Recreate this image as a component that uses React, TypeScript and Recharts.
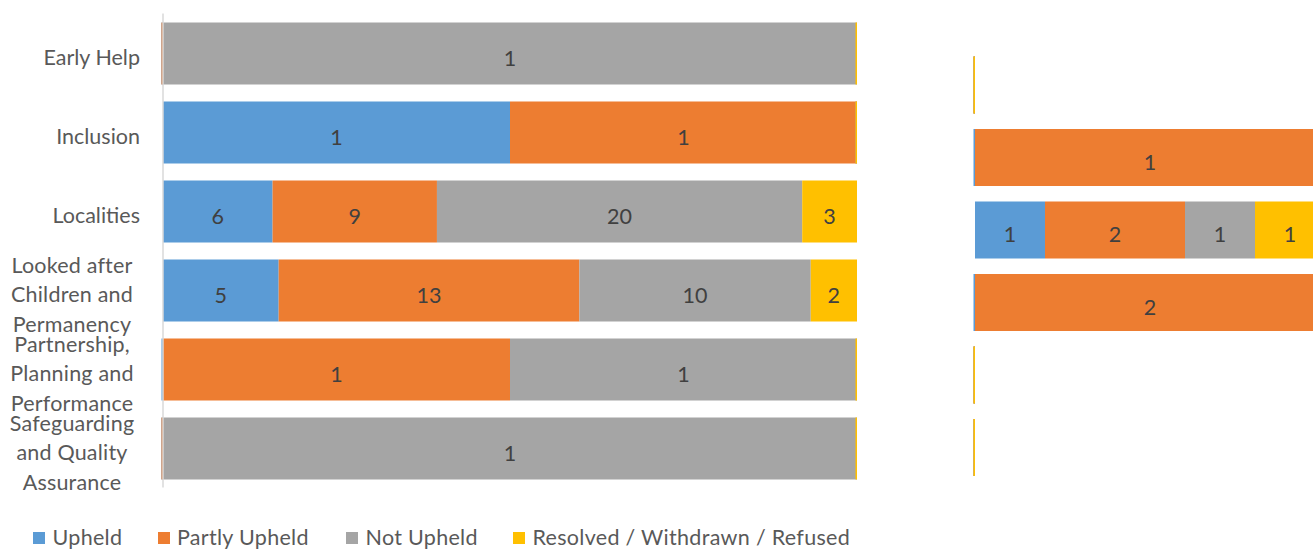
import React from "react";
import { BarChart, Bar, XAxis, YAxis, LabelList } from "recharts";

const categories = [
  "Early Help",
  "Inclusion",
  "Localities",
  "Looked after Children and Permanency",
  "Partnership, Planning and Performance",
  "Safeguarding and Quality Assurance",
];

// left chart
const upheld = [0, 1, 6, 5, 0, 0];
const partlyUpheld = [0, 1, 9, 13, 1, 0];
const notUpheld = [1, 0, 20, 10, 1, 1];
const resolved = [0, 0, 3, 2, 0, 0];

// right chart (cut off at page edge)
const upheldRight = [0, 0, 1, 0, 0, 0];
const partlyUpheldRight = [0, 1, 2, 2, 0, 0];
const notUpheldRight = [0, 0, 1, 0, 0, 0];
const resolvedRight = [0, 0, 1, 0, 0, 0];

const seriesKeys = ["upheld", "partly", "notUpheld", "resolved"];
const seriesNames = ["Upheld", "Partly Upheld", "Not Upheld", "Resolved / Withdrawn / Refused"];
const seriesColors = ["#5B9BD5", "#ED7D31", "#A5A5A5", "#FFC000"];
const legendLeft = [33, 157.5, 346, 513];

const FONT = "Lato, 'Open Sans', sans-serif";

// raw counts plus each count's share of its row (100% stacked); empty rows stay at 0
function buildRows(cols: number[][]) {
  return categories.map((name, i) => {
    const row: any = { name };
    const total = cols.reduce((s, c) => s + c[i], 0);
    seriesKeys.forEach((k, j) => {
      row[k] = cols[j][i];
      row[k + "Share"] = total ? cols[j][i] / total : 0;
    });
    return row;
  });
}

const leftRows = buildRows([upheld, partlyUpheld, notUpheld, resolved]);
const rightRows = buildRows([upheldRight, partlyUpheldRight, notUpheldRight, resolvedRight]);

function wrapWords(text: string, max: number) {
  const lines: string[] = [];
  let cur = "";
  text.split(" ").forEach((w) => {
    const next = cur ? cur + " " + w : w;
    if (next.length > max && cur) {
      lines.push(cur);
      cur = w;
    } else cur = next;
  });
  if (cur) lines.push(cur);
  return lines;
}

const CategoryTick = (props: any) => {
  const { x, y, payload } = props;
  const lines = wrapWords(payload.value, 12);
  if (lines.length === 1) {
    return (
      <text x={x - 23} y={y + 12} textAnchor="end" fill="#595959" fontSize={21.5} fontFamily={FONT}>
        {lines[0]}
      </text>
    );
  }
  const mid = (lines.length - 1) / 2;
  return (
    <text textAnchor="middle" fill="#595959" fontSize={21.5} fontFamily={FONT} letterSpacing={0.2}>
      {lines.map((l, i) => (
        <tspan key={i} x={x - 91} y={y + 12 + (i - mid) * 29.5}>
          {l}
        </tspan>
      ))}
    </text>
  );
};

// zero-size segments still leave a thin sliver of their colour, as in the original
const segmentShape = (color: string) => (props: any) => {
  const { x, y, width, height } = props;
  if (!Number.isFinite(x) || !Number.isFinite(y)) return <g />;
  if (!width || !Number.isFinite(width) || Math.abs(width) < 0.5) {
    return <rect x={x - 1.5} y={y} width={1.5} height={height} fill={color} />;
  }
  return <rect x={x} y={y} width={width} height={height} fill={color} />;
};

const valueLabel = (props: any) => {
  const { x, y, width, height, value } = props;
  if (!value) return null;
  return (
    <text
      x={x + width / 2}
      y={y + height / 2 + 12}
      textAnchor="middle"
      fill="#404040"
      fontSize={21.5}
      fontFamily={FONT}
    >
      {value}
    </text>
  );
};

function StackBars() {
  return seriesKeys.map((k, i) => (
    <Bar
      key={k}
      dataKey={k + "Share"}
      name={seriesNames[i]}
      stackId="a"
      fill={seriesColors[i]}
      shape={segmentShape(seriesColors[i])}
      isAnimationActive={false}
    >
      <LabelList dataKey={k} content={valueLabel} />
    </Bar>
  ));
}

export default function App() {
  return (
    <div
      style={{
        position: "fixed",
        left: 0,
        top: 0,
        width: 1313,
        height: 549,
        overflow: "hidden",
        background: "#fff",
      }}
    >
      <div style={{ position: "absolute", left: 0, top: 0 }}>
        <BarChart
          width={870}
          height={500}
          data={leftRows}
          layout="vertical"
          barSize={62}
          margin={{ top: 13.5, right: 13, bottom: 12.5, left: 0 }}
        >
          <XAxis type="number" domain={[0, 1]} hide />
          <YAxis
            type="category"
            dataKey="name"
            width={163}
            tickLine={false}
            tickSize={0}
            tickMargin={0}
            axisLine={{ stroke: "#D9D9D9", strokeWidth: 1.5 }}
            tick={<CategoryTick />}
            interval={0}
          />
          {StackBars()}
        </BarChart>
      </div>

      <div style={{ position: "absolute", left: 970, top: 0 }}>
        <BarChart
          width={355}
          height={500}
          data={rightRows}
          layout="vertical"
          barSize={57}
          margin={{ top: 48.5, right: 0, bottom: 16.5, left: 5 }}
        >
          <XAxis type="number" domain={[0, 1]} hide />
          <YAxis type="category" dataKey="name" hide />
          {StackBars()}
        </BarChart>
      </div>

      {seriesNames.map((n, i) => (
        <div
          key={n}
          style={{
            position: "absolute",
            left: legendLeft[i],
            top: 526,
            display: "flex",
            alignItems: "center",
            fontFamily: FONT,
            fontSize: 21.5,
            letterSpacing: 0.3,
            color: "#595959",
            whiteSpace: "nowrap",
            lineHeight: "23px",
          }}
        >
          <span
            style={{ width: 12, height: 12, background: seriesColors[i], marginRight: 7.5, display: "inline-block" }}
          />
          <span>{n}</span>
        </div>
      ))}
    </div>
  );
}
